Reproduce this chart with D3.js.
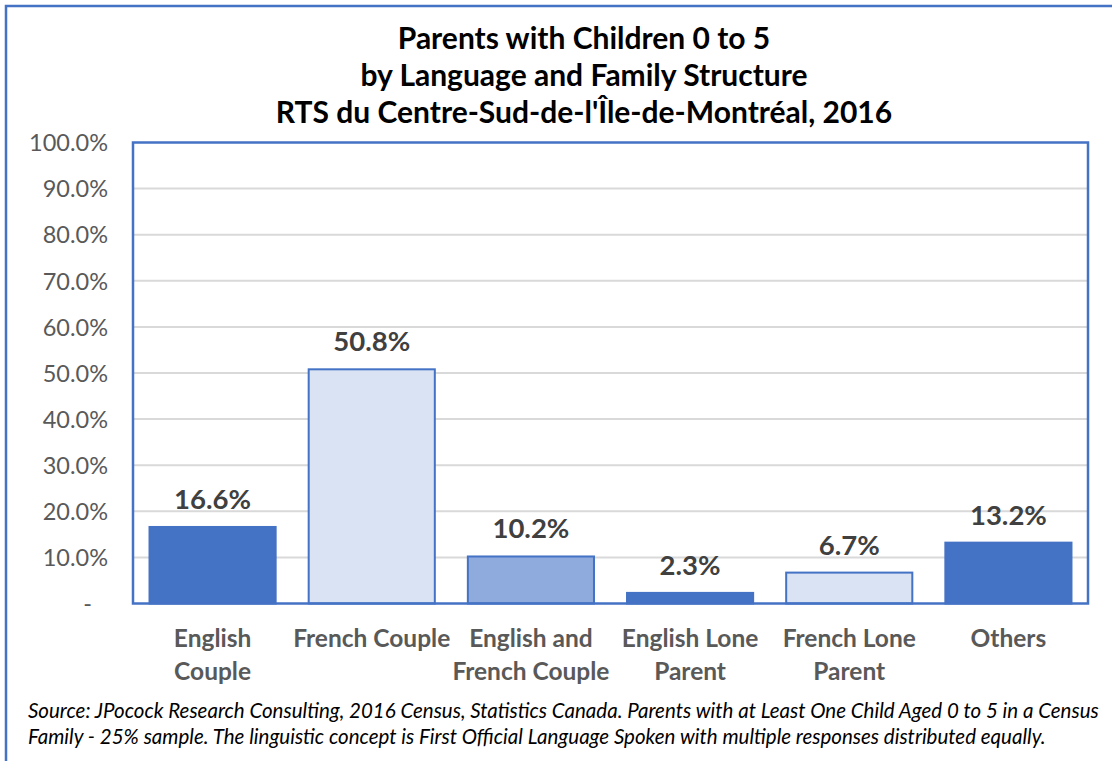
<!DOCTYPE html>
<html><head><meta charset="utf-8">
<script src="https://cdn.jsdelivr.net/npm/d3@7"></script>
<style>
html,body{margin:0;padding:0;background:#fff;overflow:hidden;}
text{font-family:Lato,"Open Sans",sans-serif;}
</style></head>
<body>
<svg id="chart" width="1112" height="761"></svg>
<script>
const titleLines = ["Parents with Children 0 to 5","by Language and Family Structure","RTS du Centre-Sud-de-l'Île-de-Montréal, 2016"];
const categories = [["English","Couple"],["French Couple"],["English and","French Couple"],["English Lone","Parent"],["French Lone","Parent"],["Others"]];
const values = [16.6, 50.8, 10.2, 2.3, 6.7, 13.2];
const fills = ["#4472C4","#DAE3F3","#8FAADC","#4472C4","#DAE3F3","#4472C4"];
const yTicks = [0,10,20,30,40,50,60,70,80,90,100];
const footLines = ["Source: JPocock Research Consulting, 2016 Census, Statistics Canada. Parents with at Least One Child Aged 0 to 5 in a Census","Family - 25% sample. The linguistic concept is First Official Language Spoken with multiple responses distributed equally."];

const svg = d3.select("#chart");
const m = {left:133, right:1088, top:142.5, bottom:603.5};

// outer border
svg.append("rect").attr("x",6).attr("y",6).attr("width",1130).attr("height",800)
  .attr("fill","none").attr("stroke","#4472C4").attr("stroke-width",2.5);

const x = d3.scaleBand().domain(d3.range(categories.length)).range([m.left,m.right]).paddingInner(0.195).paddingOuter(0.0975);
const y = d3.scaleLinear().domain([0,100]).range([m.bottom,m.top]);

// gridlines
svg.append("g").selectAll("line").data(yTicks.filter(d=>d>0&&d<100)).join("line")
  .attr("x1",m.left).attr("x2",m.right).attr("y1",d=>y(d)).attr("y2",d=>y(d))
  .attr("stroke","#D9D9D9").attr("stroke-width",2);

// y axis labels
const yAxis = d3.axisLeft(y).tickValues(yTicks).tickSize(0).tickPadding(0)
  .tickFormat(d=> d===0 ? "-" : d.toFixed(1)+"%");
const ya = svg.append("g").attr("transform",`translate(108,0)`).call(yAxis);
ya.select(".domain").remove();
ya.selectAll("text").attr("fill","#595959").style("font-size","23.5px").style("font-family","Lato,sans-serif").attr("dy","0.35em");
ya.selectAll(".tick").filter(d=>d===0).select("text").attr("x",-16);

// bars
svg.append("g").selectAll("rect").data(values).join("rect")
  .attr("x",(d,i)=>x(i)+1).attr("width",x.bandwidth()-2)
  .attr("y",d=>y(d)).attr("height",d=>y(0)-y(d))
  .attr("fill",(d,i)=>fills[i]).attr("stroke","#4472C4").attr("stroke-width",2);

// value labels
svg.append("g").selectAll("text").data(values).join("text")
  .attr("x",(d,i)=>x(i)+x.bandwidth()/2).attr("y",d=>y(d)-18)
  .attr("text-anchor","middle").attr("fill","#404040")
  .style("font-size","27.5px").style("font-weight","bold").text(d=>d.toFixed(1)+"%");

// plot border
svg.append("rect").attr("x",m.left).attr("y",m.top).attr("width",m.right-m.left).attr("height",m.bottom-m.top)
  .attr("fill","none").attr("stroke","#4472C4").attr("stroke-width",2.5);

// category labels
const cg = svg.append("g");
categories.forEach((lines,i)=>{
  const t = cg.append("text").attr("x",x(i)+x.bandwidth()/2).attr("y",647)
    .attr("text-anchor","middle").attr("fill","#595959")
    .style("font-size","24.5px").style("font-weight","bold");
  lines.forEach((l,j)=>t.append("tspan").attr("x",x(i)+x.bandwidth()/2).attr("dy",j===0?0:33).text(l));
});

// title
const tg = svg.append("g");
titleLines.forEach((l,i)=>{
  tg.append("text").attr("x",584).attr("y",49+i*37).attr("text-anchor","middle")
    .attr("fill","#000").style("font-size","30px").style("font-weight","bold").text(l);
});

// footnote
footLines.forEach((l,i)=>{
  svg.append("text").attr("x",28).attr("y",718+i*26).attr("fill","#000")
    .style("font-size","20.5px").style("font-style","italic").text(l);
});
</script>
</body></html>
